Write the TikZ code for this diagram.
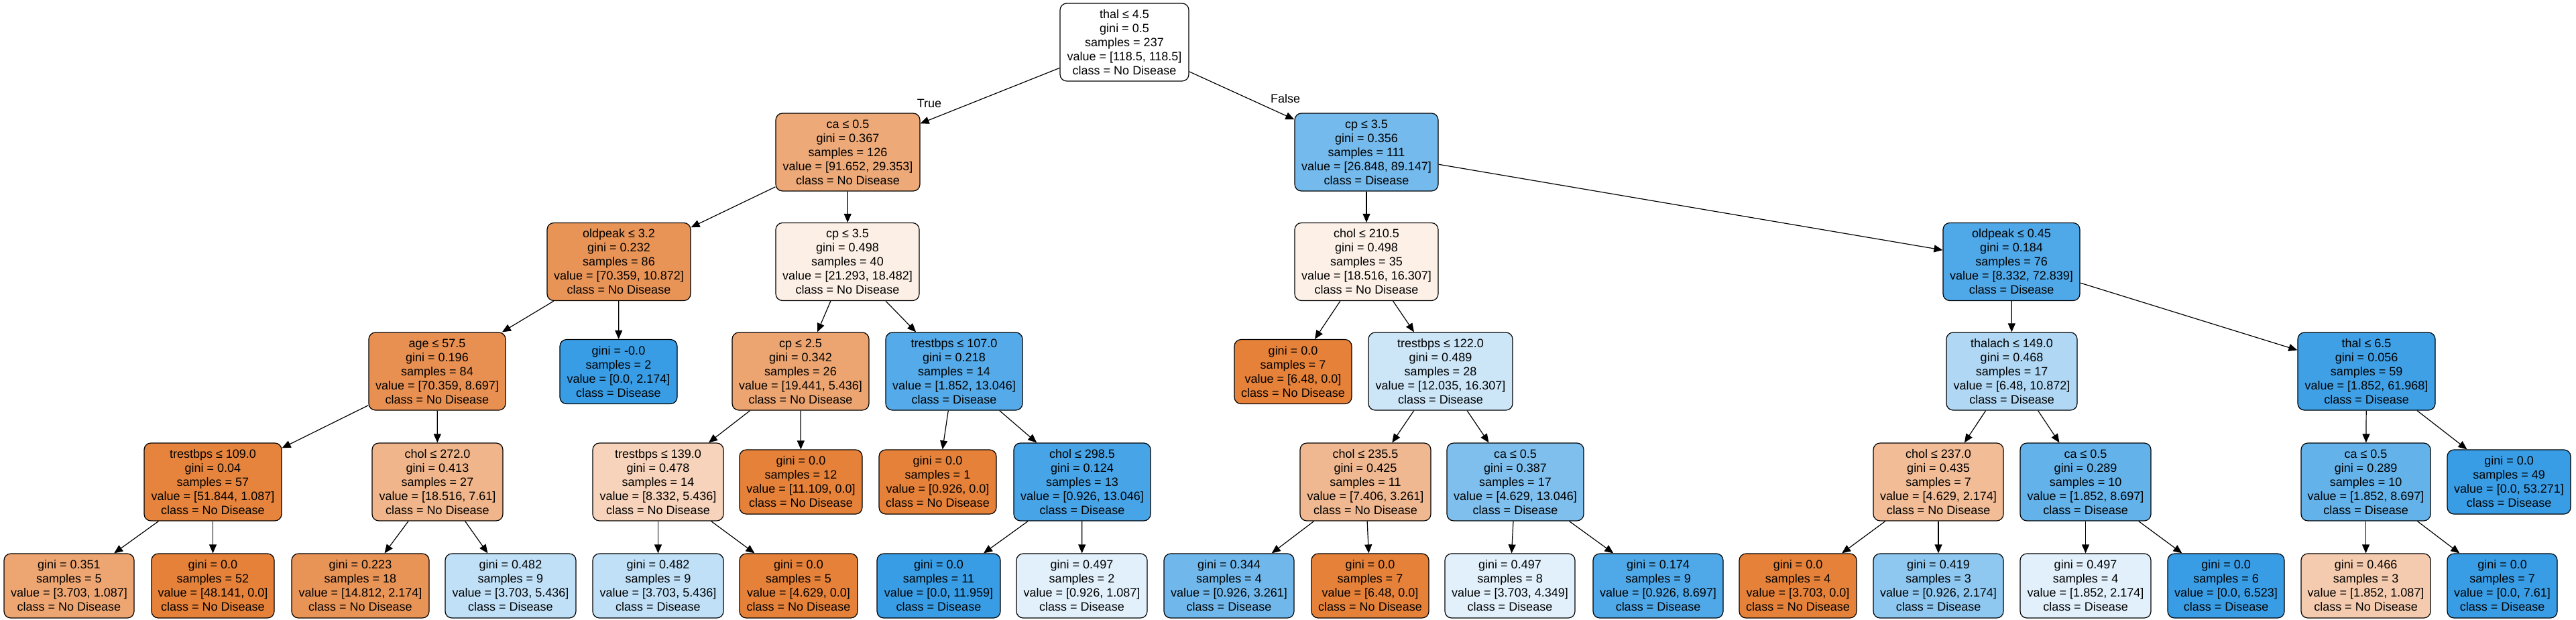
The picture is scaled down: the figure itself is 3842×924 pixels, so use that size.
\documentclass[tikz,border=0pt]{standalone}
\usepackage{fontspec}
\setmainfont{Liberation Sans}
\usetikzlibrary{arrows.meta}
\definecolor{co}{RGB}{229,129,57}
\definecolor{cb}{RGB}{57,157,229}
\begin{document}
\begin{tikzpicture}[x=1pt,y=-1pt,
 box/.style={draw=black, line width=1.2pt, rounded corners=10pt, align=center, inner sep=0pt, font=\fontsize{18}{21}\selectfont, minimum height=116pt},
 leaf/.style={box, minimum height=96pt},
 edge/.style={draw=black, line width=1.2pt, -{Triangle[length=13pt,width=11pt]}},
 lbl/.style={font=\fontsize{18}{21}\selectfont, inner sep=0pt}]
\useasboundingbox (0,0) rectangle (3842,924);
\fill[white] (0,0) rectangle (3842,924);
% level 0
\node[box, fill=white, minimum width=192pt] (n0) at (1677,63) {thal ≤ 4.5\\gini = 0.5\\samples = 237\\value = [118.5, 118.5]\\class = No Disease};
% level 1
\node[box, fill=co!68!white, minimum width=215pt] (n1) at (1264.5,227) {ca ≤ 0.5\\gini = 0.367\\samples = 126\\value = [91.652, 29.353]\\class = No Disease};
\node[box, fill=cb!70!white, minimum width=214pt] (n2) at (2038,227) {cp ≤ 3.5\\gini = 0.356\\samples = 111\\value = [26.848, 89.147]\\class = Disease};
% level 2
\node[box, fill=co!85!white, minimum width=214pt] (n3) at (923,390.5) {oldpeak ≤ 3.2\\gini = 0.232\\samples = 86\\value = [70.359, 10.872]\\class = No Disease};
\node[box, fill=co!13!white, minimum width=214pt] (n4) at (1264,390.5) {cp ≤ 3.5\\gini = 0.498\\samples = 40\\value = [21.293, 18.482]\\class = No Disease};
\node[box, fill=co!12!white, minimum width=214pt] (n5) at (2038,390.5) {chol ≤ 210.5\\gini = 0.498\\samples = 35\\value = [18.516, 16.307]\\class = No Disease};
\node[box, fill=cb!89!white, minimum width=204pt] (n6) at (3000,390.5) {oldpeak ≤ 0.45\\gini = 0.184\\samples = 76\\value = [8.332, 72.839]\\class = Disease};
% level 3
\node[box, fill=co!88!white, minimum width=204pt] (n7) at (652,554) {age ≤ 57.5\\gini = 0.196\\samples = 84\\value = [70.359, 8.697]\\class = No Disease};
\node[leaf, fill=cb, minimum width=175pt] (n8) at (922.5,554.5) {gini = -0.0\\samples = 2\\value = [0.0, 2.174]\\class = Disease};
\node[box, fill=co!72!white, minimum width=204pt] (n9) at (1194,554) {cp ≤ 2.5\\gini = 0.342\\samples = 26\\value = [19.441, 5.436]\\class = No Disease};
\node[box, fill=cb!86!white, minimum width=204pt] (n10) at (1423,554) {trestbps ≤ 107.0\\gini = 0.218\\samples = 14\\value = [1.852, 13.046]\\class = Disease};
\node[leaf, fill=co, minimum width=175pt] (n11) at (1928.5,554.5) {gini = 0.0\\samples = 7\\value = [6.48, 0.0]\\class = No Disease};
\node[box, fill=cb!26!white, minimum width=215pt] (n12) at (2148.5,554) {trestbps ≤ 122.0\\gini = 0.489\\samples = 28\\value = [12.035, 16.307]\\class = Disease};
\node[box, fill=cb!40!white, minimum width=195pt] (n13) at (3000.5,554) {thalach ≤ 149.0\\gini = 0.468\\samples = 17\\value = [6.48, 10.872]\\class = Disease};
\node[box, fill=cb!97!white, minimum width=205pt] (n14) at (3529.5,554) {thal ≤ 6.5\\gini = 0.056\\samples = 59\\value = [1.852, 61.968]\\class = Disease};
% level 4
\node[box, fill=co!98!white, minimum width=205pt] (n15) at (317.5,719) {trestbps ≤ 109.0\\gini = 0.04\\samples = 57\\value = [51.844, 1.087]\\class = No Disease};
\node[box, fill=co!59!white, minimum width=195pt] (n16) at (652.5,719) {chol ≤ 272.0\\gini = 0.413\\samples = 27\\value = [18.516, 7.61]\\class = No Disease};
\node[box, fill=co!35!white, minimum width=195pt] (n17) at (981.5,719) {trestbps ≤ 139.0\\gini = 0.478\\samples = 14\\value = [8.332, 5.436]\\class = No Disease};
\node[leaf, fill=co, minimum width=183pt] (n18) at (1194.5,719) {gini = 0.0\\samples = 12\\value = [11.109, 0.0]\\class = No Disease};
\node[leaf, fill=co, minimum width=175pt] (n19) at (1398.5,719) {gini = 0.0\\samples = 1\\value = [0.926, 0.0]\\class = No Disease};
\node[box, fill=cb!93!white, minimum width=204pt] (n20) at (1614,719) {chol ≤ 298.5\\gini = 0.124\\samples = 13\\value = [0.926, 13.046]\\class = Disease};
\node[box, fill=co!56!white, minimum width=195pt] (n21) at (2036.5,719) {chol ≤ 235.5\\gini = 0.425\\samples = 11\\value = [7.406, 3.261]\\class = No Disease};
\node[box, fill=cb!65!white, minimum width=204pt] (n22) at (2260,719) {ca ≤ 0.5\\gini = 0.387\\samples = 17\\value = [4.629, 13.046]\\class = Disease};
\node[box, fill=co!53!white, minimum width=194pt] (n23) at (2891,719) {chol ≤ 237.0\\gini = 0.435\\samples = 7\\value = [4.629, 2.174]\\class = No Disease};
\node[box, fill=cb!79!white, minimum width=195pt] (n24) at (3110.5,719) {ca ≤ 0.5\\gini = 0.289\\samples = 10\\value = [1.852, 8.697]\\class = Disease};
\node[box, fill=cb!79!white, minimum width=193pt] (n25) at (3528.5,719) {ca ≤ 0.5\\gini = 0.289\\samples = 10\\value = [1.852, 8.697]\\class = Disease};
\node[leaf, fill=cb, minimum width=184pt] (n26) at (3742,719) {gini = 0.0\\samples = 49\\value = [0.0, 53.271]\\class = Disease};
% level 5
\node[leaf, fill=co!71!white, minimum width=194pt] (n27) at (103,874) {gini = 0.351\\samples = 5\\value = [3.703, 1.087]\\class = No Disease};
\node[leaf, fill=co, minimum width=183pt] (n28) at (317.5,874) {gini = 0.0\\samples = 52\\value = [48.141, 0.0]\\class = No Disease};
\node[leaf, fill=co!85!white, minimum width=205pt] (n29) at (537.5,874) {gini = 0.223\\samples = 18\\value = [14.812, 2.174]\\class = No Disease};
\node[leaf, fill=cb!32!white, minimum width=195pt] (n30) at (761.5,874) {gini = 0.482\\samples = 9\\value = [3.703, 5.436]\\class = Disease};
\node[leaf, fill=cb!32!white, minimum width=195pt] (n31) at (981.5,874) {gini = 0.482\\samples = 9\\value = [3.703, 5.436]\\class = Disease};
\node[leaf, fill=co, minimum width=176pt] (n32) at (1191,874) {gini = 0.0\\samples = 5\\value = [4.629, 0.0]\\class = No Disease};
\node[leaf, fill=cb, minimum width=184pt] (n33) at (1400,874) {gini = 0.0\\samples = 11\\value = [0.0, 11.959]\\class = Disease};
\node[leaf, fill=cb!15!white, minimum width=195pt] (n34) at (1613.5,874) {gini = 0.497\\samples = 2\\value = [0.926, 1.087]\\class = Disease};
\node[leaf, fill=cb!72!white, minimum width=194pt] (n35) at (1833,874) {gini = 0.344\\samples = 4\\value = [0.926, 3.261]\\class = Disease};
\node[leaf, fill=co, minimum width=175pt] (n36) at (2043.5,874) {gini = 0.0\\samples = 7\\value = [6.48, 0.0]\\class = No Disease};
\node[leaf, fill=cb!15!white, minimum width=194pt] (n37) at (2252,874) {gini = 0.497\\samples = 8\\value = [3.703, 4.349]\\class = Disease};
\node[leaf, fill=cb!89!white, minimum width=194pt] (n38) at (2473,874) {gini = 0.174\\samples = 9\\value = [0.926, 8.697]\\class = Disease};
\node[leaf, fill=co, minimum width=175pt] (n39) at (2681.5,874) {gini = 0.0\\samples = 4\\value = [3.703, 0.0]\\class = No Disease};
\node[leaf, fill=cb!57!white, minimum width=194pt] (n40) at (2891,874) {gini = 0.419\\samples = 3\\value = [0.926, 2.174]\\class = Disease};
\node[leaf, fill=cb!15!white, minimum width=195pt] (n41) at (3110.5,874) {gini = 0.497\\samples = 4\\value = [1.852, 2.174]\\class = Disease};
\node[leaf, fill=cb, minimum width=174pt] (n42) at (3320,874) {gini = 0.0\\samples = 6\\value = [0.0, 6.523]\\class = Disease};
\node[leaf, fill=co!41!white, minimum width=193pt] (n43) at (3528.5,874) {gini = 0.466\\samples = 3\\value = [1.852, 1.087]\\class = No Disease};
\node[leaf, fill=cb, minimum width=164pt] (n44) at (3732,874) {gini = 0.0\\samples = 7\\value = [0.0, 7.61]\\class = Disease};
% edges
\draw[edge] (n0) -- (n1);
\draw[edge] (n0) -- (n2);
\node[lbl] (tl) at (1386,154) {True};
\node[lbl] (fl) at (1917,147) {False};
\draw[edge] (n1) -- (n3);
\draw[edge] (n1) -- (n4);
\draw[edge] (n2) -- (n5);
\draw[edge] (n2) -- (n6);
\draw[edge] (n3) -- (n7);
\draw[edge] (n3) -- (n8);
\draw[edge] (n4) -- (n9);
\draw[edge] (n4) -- (n10);
\draw[edge] (n5) -- (n11);
\draw[edge] (n5) -- (n12);
\draw[edge] (n6) -- (n13);
\draw[edge] (n6) -- (n14);
\draw[edge] (n7) -- (n15);
\draw[edge] (n7) -- (n16);
\draw[edge] (n9) -- (n17);
\draw[edge] (n9) -- (n18);
\draw[edge] (n10) -- (n19);
\draw[edge] (n10) -- (n20);
\draw[edge] (n12) -- (n21);
\draw[edge] (n12) -- (n22);
\draw[edge] (n13) -- (n23);
\draw[edge] (n13) -- (n24);
\draw[edge] (n14) -- (n25);
\draw[edge] (n14) -- (n26);
\draw[edge] (n15) -- (n27);
\draw[edge] (n15) -- (n28);
\draw[edge] (n16) -- (n29);
\draw[edge] (n16) -- (n30);
\draw[edge] (n17) -- (n31);
\draw[edge] (n17) -- (n32);
\draw[edge] (n20) -- (n33);
\draw[edge] (n20) -- (n34);
\draw[edge] (n21) -- (n35);
\draw[edge] (n21) -- (n36);
\draw[edge] (n22) -- (n37);
\draw[edge] (n22) -- (n38);
\draw[edge] (n23) -- (n39);
\draw[edge] (n23) -- (n40);
\draw[edge] (n24) -- (n41);
\draw[edge] (n24) -- (n42);
\draw[edge] (n25) -- (n43);
\draw[edge] (n25) -- (n44);
\end{tikzpicture}
\end{document}
